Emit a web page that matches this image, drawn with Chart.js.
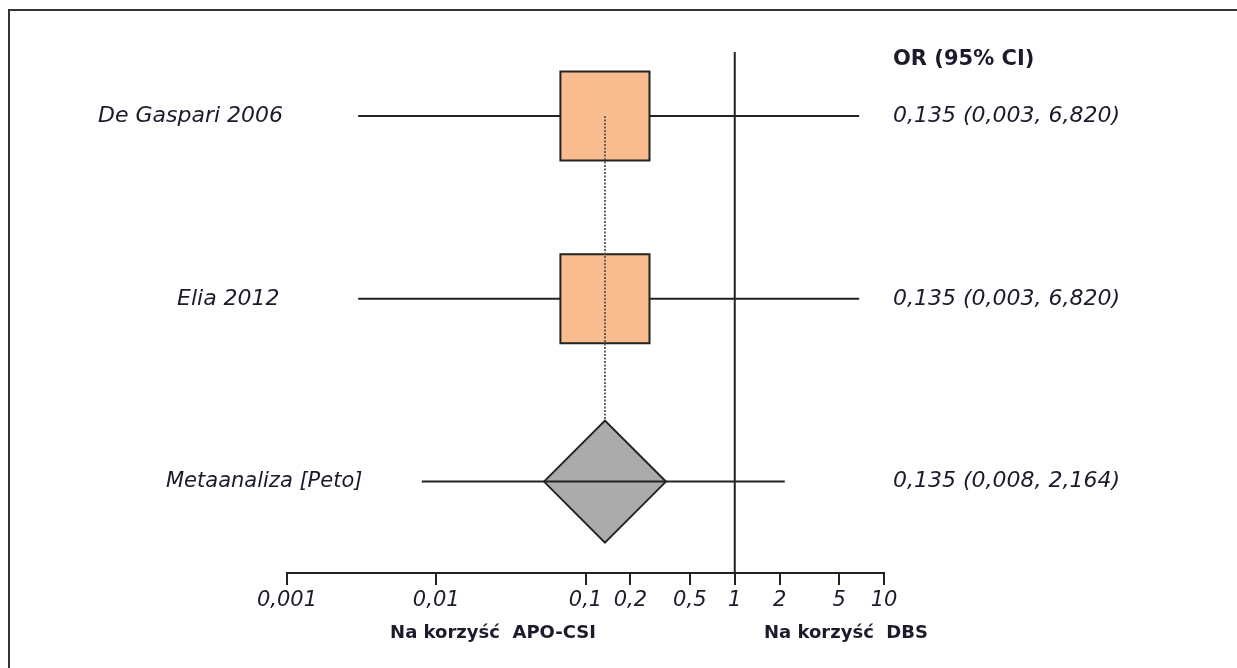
<!DOCTYPE html>
<html>
<head>
<meta charset="utf-8">
<script src="https://cdn.jsdelivr.net/npm/chart.js@4.4.1/dist/chart.umd.min.js"></script>
<style>
  html, body { margin: 0; padding: 0; background: #ffffff; }
  #wrap { width: 1237px; height: 668px; position: relative; }
</style>
</head>
<body>
<div id="wrap"><canvas id="c" width="1237" height="668"></canvas></div>
<script>
// ---- data ----
const studies = ['De Gaspari 2006', 'Elia 2012', 'Metaanaliza [Peto]'];
const rowPos = [3, 2, 1];
const orValues = [0.135, 0.135, 0.135];
const ciLower = [0.003, 0.003, 0.008];
const ciUpper = [6.820, 6.820, 2.164];
const orLabels = ['0,135 (0,003, 6,820)', '0,135 (0,003, 6,820)', '0,135 (0,008, 2,164)'];
const tickValues = [0.001, 0.01, 0.1, 0.2, 0.5, 1, 2, 5, 10];
const tickLabels = ['0,001', '0,01', '0,1', '0,2', '0,5', '1', '2', '5', '10'];
const headerLabel = 'OR (95% CI)';
const favourLeft = 'Na korzyść  APO-CSI';
const favourRight = 'Na korzyść  DBS';
const refValue = 1;

const Y_MIN = 0.5, Y_MAX = 3.35;
const LINE = '#222222';
const TEXT = '#1b1b2b';
const FONT = '"DejaVu Sans", Verdana, sans-serif';

const datasets = [];
// reference line at OR = 1
datasets.push({
  type: 'line', data: [{x: refValue, y: Y_MIN}, {x: refValue, y: Y_MAX}],
  borderColor: LINE, borderWidth: 2, pointRadius: 0, order: 10, clip: false
});
// study CI lines
for (let i = 0; i < 2; i++) {
  datasets.push({
    type: 'line', data: [{x: ciLower[i], y: rowPos[i]}, {x: ciUpper[i], y: rowPos[i]}],
    borderColor: LINE, borderWidth: 2, pointRadius: 0, order: 9, clip: false
  });
}
// study boxes
datasets.push({
  type: 'scatter',
  data: [0, 1].map(i => ({x: orValues[i], y: rowPos[i]})),
  pointStyle: 'rect', pointRadius: 63, pointHoverRadius: 63,
  backgroundColor: '#F8BC8E', borderColor: LINE, borderWidth: 2, order: 8, clip: false
});
// dotted line through estimates
datasets.push({
  type: 'line', data: [{x: orValues[0], y: rowPos[0]}, {x: orValues[2], y: rowPos[2]}],
  borderColor: '#555555', borderWidth: 1.8, borderDash: [2, 1.5], pointRadius: 0, order: 7, clip: false
});
// meta diamond
datasets.push({
  type: 'scatter',
  data: [{x: orValues[2], y: rowPos[2]}],
  pointStyle: 'rectRot', pointRadius: 61, pointHoverRadius: 61,
  backgroundColor: '#ABABAB', borderColor: LINE, borderWidth: 2, order: 6, clip: false
});
// meta CI line
datasets.push({
  type: 'line', data: [{x: ciLower[2], y: rowPos[2]}, {x: ciUpper[2], y: rowPos[2]}],
  borderColor: LINE, borderWidth: 2, pointRadius: 0, order: 5, clip: false
});

const textPlugin = {
  id: 'forestText',
  afterDraw(chart) {
    const ctx = chart.ctx;
    const y = chart.scales.y;
    ctx.save();
    // frame
    ctx.strokeStyle = '#333333';
    ctx.lineWidth = 2;
    ctx.beginPath();
    ctx.moveTo(9, 700);
    ctx.lineTo(9, 10);
    ctx.lineTo(1300, 10);
    ctx.stroke();

    ctx.fillStyle = TEXT;
    ctx.textBaseline = 'middle';
    // study labels
    const labelLeft = [98, 177, 166];
    const labelSize = [22, 22, 21];
    ctx.textAlign = 'left';
    studies.forEach((s, i) => {
      ctx.font = 'italic ' + labelSize[i] + 'px ' + FONT;
      ctx.fillText(s, labelLeft[i], y.getPixelForValue(rowPos[i]));
    });
    // OR column
    ctx.font = 'italic 22px ' + FONT;
    orLabels.forEach((s, i) => ctx.fillText(s, 893, y.getPixelForValue(rowPos[i])));
    ctx.font = 'bold 21px ' + FONT;
    ctx.fillText(headerLabel, 893, 60);
    // favour labels
    ctx.font = 'bold 18px ' + FONT;
    ctx.textAlign = 'center';
    ctx.fillText(favourLeft, 493, 633);
    ctx.fillText(favourRight, 846, 633);
    ctx.restore();
  }
};

new Chart(document.getElementById('c'), {
  data: { datasets },
  options: {
    responsive: false,
    animation: false,
    events: [],
    layout: { autoPadding: false, padding: { left: 287, right: 353, top: 52, bottom: 0 } },
    plugins: { legend: { display: false }, tooltip: { enabled: false } },
    scales: {
      x: {
        type: 'logarithmic', position: 'bottom', min: 0.001, max: 10,
        afterBuildTicks(scale) { scale.ticks = tickValues.map(v => ({value: v, major: true})); },
        afterFit(scale) { scale.height = 95; },
        grid: { display: true, drawOnChartArea: false, drawTicks: true, tickLength: 12, color: LINE, lineWidth: 2 },
        border: { display: true, color: LINE, width: 2 },
        ticks: {
          autoSkip: false, maxRotation: 0, padding: 3, color: TEXT,
          font: { family: FONT, size: 21, style: 'italic' },
          callback(value, index) { return tickLabels[index]; }
        }
      },
      y: {
        type: 'linear', display: false, min: Y_MIN, max: Y_MAX
      }
    }
  },
  plugins: [textPlugin]
});
</script>
</body>
</html>
